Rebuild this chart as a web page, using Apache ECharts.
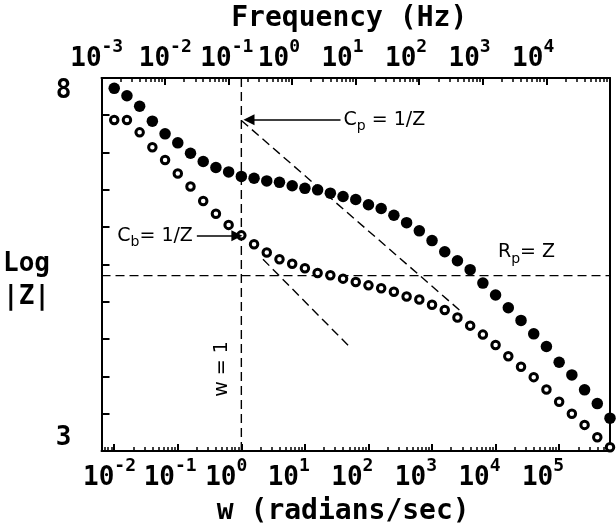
<!DOCTYPE html>
<html>
<head>
<meta charset="utf-8">
<script src="https://cdn.jsdelivr.net/npm/echarts@6/dist/echarts.min.js"></script>
<style>
html,body{margin:0;padding:0;background:#fff;}
#chart{width:616px;height:531px;}
</style>
</head>
<body>
<div id="chart"></div>
<script>
// ---- data (log10 of w in rad/s, log10 |Z|) ----
const logW = [-2.0,-1.8,-1.6,-1.4,-1.2,-1.0,-0.8,-0.6,-0.4,-0.2,
              0.0,0.2,0.4,0.6,0.8,1.0,1.2,1.4,1.6,1.8,
              2.0,2.2,2.4,2.6,2.8,3.0,3.2,3.4,3.6,3.8,
              4.0,4.2,4.4,4.6,4.8,5.0,5.2,5.4,5.6,5.8];
const filledLogZ = [7.86,7.76,7.62,7.42,7.25,7.13,6.99,6.88,6.80,6.74,
                    6.68,6.655,6.62,6.60,6.555,6.52,6.50,6.455,6.41,6.37,
                    6.30,6.25,6.16,6.06,5.95,5.82,5.67,5.55,5.43,5.25,
                    5.09,4.92,4.75,4.57,4.40,4.19,4.02,3.82,3.635,3.44];
const openLogZ = [7.435,7.435,7.27,7.07,6.90,6.72,6.545,6.35,6.18,6.03,
                  5.89,5.77,5.66,5.57,5.51,5.45,5.385,5.355,5.31,5.265,
                  5.22,5.18,5.135,5.07,5.03,4.96,4.89,4.79,4.68,4.56,
                  4.42,4.27,4.13,3.99,3.825,3.66,3.50,3.35,3.185,3.05];

// reference lines
const vLine = [[0, 3], [0, 8]];
const hLine = [[-2.2, 5.35], [5.8, 5.35]];
const cpAsymptote = [[0, 7.43], [3.43, 4.89]];
const cbAsymptote = [[0.34, 5.57], [1.71, 4.39]];

// annotation arrows [tail, tip]
const cpArrow = [[1.56, 7.438], [0.12, 7.438]];
const cbArrow = [[-0.70, 5.884], [-0.07, 5.884]];

// annotation anchors
const cpLabelAt = [1.60, 7.41];
const cbLabelAt = [-1.96, 5.86];
const rpLabelAt = [4.03, 5.635];
const wLabelAt = [-0.30, 4.10];

// tick labels
const bottomDecades = [-2, -1, 0, 1, 2, 3, 4, 5];
const bottomExps = ['-2', '-1', '0', '1', '2', '3', '4', '5'];
const topDecades = [-3, -2, -1, 0, 1, 2, 3, 4];
const topExps = ['-3', '-2', '-1', '0', '1', '2', '3', '4'];
const yLabelValues = [3, 8];

const xTitle = 'w (radians/sec)';
const topTitle = 'Frequency (Hz)';
const yTitle = '\nLog\n|Z|';

// ---- layout ----
const X_MIN = -2.2, X_MAX = 5.8;
const LOG2PI = Math.log10(2 * Math.PI);
const GRID = {left: 97, right: 6, top: 75, bottom: 78};
const pxPerDec = (616 - GRID.left - GRID.right) / (X_MAX - X_MIN);
const bottomShiftPx = [22, 19, 6, 5, 5, 5, 5, 5];
const topShiftPx = [22, 27, 25, 8, 8, 8, 8, 8];

const MONO = "'DejaVu Sans Mono', monospace";
const SANS = "'DejaVu Sans', sans-serif";

function minorTicks(lo, hi) {
  const out = [];
  for (let d = Math.floor(lo) - 1; d <= Math.ceil(hi); d++) {
    for (let k = 2; k <= 9; k++) {
      const v = d + Math.log10(k);
      if (v > lo && v < hi) out.push(v);
    }
  }
  return out;
}

function nearestIndex(list, v) {
  let best = 0, bd = Infinity;
  list.forEach((a, i) => { const d = Math.abs(a - v); if (d < bd) { bd = d; best = i; } });
  return best;
}

const bottomAnchors = bottomDecades.map((d, i) => d + bottomShiftPx[i] / pxPerDec);
const topAnchors = topDecades.map((d, i) => d + topShiftPx[i] / pxPerDec);

const tickRich = {
  b: {fontFamily: MONO, fontWeight: 'bold', fontSize: 26, color: '#000', verticalAlign: 'bottom'},
  e: {fontFamily: MONO, fontWeight: 'bold', fontSize: 18, color: '#000', verticalAlign: 'top', padding: [0, 0, 16, 0]}
};
const annRich = {
  n: {fontFamily: SANS, fontSize: 19, color: '#000', verticalAlign: 'top'},
  s: {fontFamily: SANS, fontSize: 14, color: '#000', verticalAlign: 'top', padding: [9, 0, 0, 0]}
};

const black = {color: '#000', width: 2};
const dashStyle = {color: '#000', width: 1.4, type: [9, 5]};

const tMin = X_MIN - LOG2PI, tMax = X_MAX - LOG2PI;

const chart = echarts.init(document.getElementById('chart'), null, {renderer: 'canvas'});
chart.setOption({
  animation: false,
  backgroundColor: '#fff',
  grid: GRID,
  xAxis: [
    { // bottom, major
      type: 'value', position: 'bottom', min: X_MIN, max: X_MAX,
      axisLine: {show: true, onZero: false, lineStyle: black},
      axisTick: {show: true, inside: true, length: 7, customValues: bottomDecades, lineStyle: black},
      axisLabel: {
        customValues: bottomAnchors,
        formatter: v => '{b|10}{e|' + bottomExps[nearestIndex(bottomAnchors, v)] + '}',
        align: 'right', margin: 6, rich: tickRich
      },
      splitLine: {show: false},
      name: xTitle, nameLocation: 'middle', nameGap: 47,
      nameTextStyle: {fontFamily: MONO, fontWeight: 'bold', fontSize: 28, color: '#000', padding: [0, 25, 0, 0]}
    },
    { // bottom, minor
      type: 'value', position: 'bottom', min: X_MIN, max: X_MAX,
      axisLine: {show: false},
      axisTick: {show: true, inside: true, length: 4, customValues: minorTicks(X_MIN, X_MAX), lineStyle: {color: '#000', width: 1.5}},
      axisLabel: {show: false}, splitLine: {show: false}
    },
    { // top, major (Hz)
      type: 'value', position: 'top', min: tMin, max: tMax,
      axisLine: {show: true, onZero: false, lineStyle: black},
      axisTick: {show: true, inside: true, length: 7, customValues: topDecades.filter(d => d >= tMin && d <= tMax), lineStyle: black},
      axisLabel: {
        customValues: topAnchors,
        formatter: v => '{b|10}{e|' + topExps[nearestIndex(topAnchors, v)] + '}',
        align: 'right', margin: 6, rich: tickRich
      },
      splitLine: {show: false},
      name: topTitle, nameLocation: 'middle', nameGap: 44,
      nameTextStyle: {fontFamily: MONO, fontWeight: 'bold', fontSize: 28, color: '#000', padding: [0, 13, 0, 0]}
    },
    { // top, minor
      type: 'value', position: 'top', min: tMin, max: tMax,
      axisLine: {show: false},
      axisTick: {show: true, inside: true, length: 4, customValues: minorTicks(tMin, tMax), lineStyle: {color: '#000', width: 1.5}},
      axisLabel: {show: false}, splitLine: {show: false}
    }
  ],
  yAxis: [
    {
      type: 'value', position: 'left', min: 3, max: 8, interval: 0.5,
      axisLine: {show: true, onZero: false, lineStyle: black},
      axisTick: {show: true, inside: true, length: 8, lineStyle: black},
      axisLabel: {
        formatter: v => (yLabelValues.indexOf(v) >= 0 ? String(v) : ''),
        fontFamily: MONO, fontWeight: 'bold', fontSize: 26, color: '#000', margin: 30,
        verticalAlignMinLabel: 'bottom', verticalAlignMaxLabel: 'top'
      },
      splitLine: {show: false},
      name: yTitle, nameLocation: 'middle', nameRotate: 0, nameGap: 65,
      nameTextStyle: {fontFamily: MONO, fontWeight: 'bold', fontSize: 26, lineHeight: 33, color: '#000',
                      align: 'center', verticalAlign: 'middle'}
    },
    {
      type: 'value', position: 'right', min: 3, max: 8,
      axisLine: {show: true, onZero: false, lineStyle: black},
      axisTick: {show: false}, axisLabel: {show: false}, splitLine: {show: false}
    }
  ],
  series: [
    {type: 'line', data: vLine, symbol: 'none', lineStyle: dashStyle, silent: true, z: 1},
    {type: 'line', data: hLine, symbol: 'none', lineStyle: dashStyle, silent: true, z: 1},
    {type: 'line', data: cpAsymptote, symbol: 'none', lineStyle: dashStyle, silent: true, z: 1},
    {type: 'line', data: cbAsymptote, symbol: 'none', lineStyle: dashStyle, silent: true, z: 1},
    {
      type: 'line', data: [], symbol: 'none', silent: true, z: 2,
      markLine: {
        silent: true, symbol: ['none', 'triangle'], symbolSize: 11,
        label: {show: false},
        lineStyle: {type: 'solid', color: '#000', width: 1.5, opacity: 1},
        itemStyle: {color: '#000'},
        data: [
          [{coord: cpArrow[0]}, {coord: cpArrow[1]}],
          [{coord: cbArrow[0]}, {coord: cbArrow[1]}]
        ]
      }
    },
    {
      type: 'scatter', name: 'filled',
      data: logW.map((x, i) => [x, filledLogZ[i]]),
      symbol: 'circle', symbolSize: 11.5,
      itemStyle: {color: '#000', opacity: 1}, z: 3
    },
    {
      type: 'scatter', name: 'open',
      data: logW.map((x, i) => [x, openLogZ[i]]),
      symbol: 'circle', symbolSize: 7.5,
      itemStyle: {color: '#fff', borderColor: '#000', borderWidth: 3, opacity: 1}, z: 3
    },
    {
      type: 'scatter', silent: true, symbolSize: 1, itemStyle: {color: 'rgba(0,0,0,0)', opacity: 1}, z: 4,
      data: [
        {value: cpLabelAt, label: {show: true, position: 'right', distance: 0, formatter: '{n|C}{s|p}{n| = 1/Z}', rich: annRich, color: '#000'}},
        {value: cbLabelAt, label: {show: true, position: 'right', distance: 0, formatter: '{n|C}{s|b}{n|= 1/Z}', rich: annRich, color: '#000'}},
        {value: rpLabelAt, label: {show: true, position: 'right', distance: 0, formatter: '{n|R}{s|p}{n|= Z}', rich: annRich, color: '#000'}},
        {value: wLabelAt, label: {show: true, position: 'inside', rotate: 90, formatter: 'w = 1',
                                  fontFamily: SANS, fontSize: 19, color: '#000'}}
      ]
    }
  ]
});
</script>
</body>
</html>
